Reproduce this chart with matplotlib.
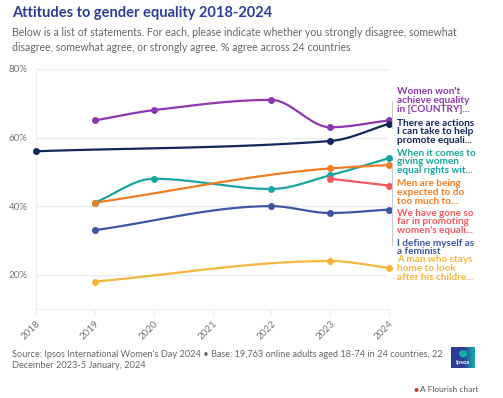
import numpy as np
import matplotlib
matplotlib.use("Agg")
import matplotlib.pyplot as plt
from matplotlib.patches import Circle

plt.rcParams['font.family'] = ['Lato', 'DejaVu Sans']

years = [2018, 2019, 2020, 2021, 2022, 2023, 2024]
nan = np.nan

# % agree (nan = not asked that year)
women_wont = [nan, 65, 68, nan, 71, 63, 65]
actions = [56, nan, nan, nan, nan, 59, 64]
equal_rights = [nan, 41, 48, nan, 45, 49, 54]
men_expected = [nan, 41, nan, nan, nan, 51, 52]
gone_so_far = [nan, nan, nan, nan, nan, 48, 46]
feminist = [nan, 33, nan, nan, 40, 38, 39]
man_stays_home = [nan, 18, nan, nan, nan, 24, 22]

series = [
    (women_wont, '#8f37b0', "Women won't\nachieve equality\nin [COUNTRY]..."),
    (actions, '#13275a', "There are actions\nI can take to help\npromote equali..."),
    (equal_rights, '#1aa5a0', "When it comes to\ngiving women\nequal rights wit..."),
    (men_expected, '#f07d22', "Men are being\nexpected to do\ntoo much to..."),
    (gone_so_far, '#f5585e', "We have gone so\nfar in promoting\nwomen's equali..."),
    (feminist, '#3d56a3', "I define myself as\na feminist"),
    (man_stays_home, '#f4b73d', "A man who stays\nhome to look\nafter his childre..."),
]
label_y = [92, 123, 153, 184, 213, 243, 260]  # centre of first line of each label, px


def monotone(x, y, n=40):
    # Fritsch-Carlson monotone cubic, like d3 curveMonotoneX
    x = np.asarray(x, float); y = np.asarray(y, float)
    if len(x) < 3:
        xs = np.linspace(x[0], x[-1], n)
        return xs, np.interp(xs, x, y)
    h = np.diff(x); d = np.diff(y) / h
    m = np.zeros(len(x))
    m[0], m[-1] = d[0], d[-1]
    for i in range(1, len(x) - 1):
        if d[i - 1] * d[i] <= 0:
            m[i] = 0
        else:
            w1 = 2 * h[i] + h[i - 1]; w2 = h[i] + 2 * h[i - 1]
            m[i] = (w1 + w2) / (w1 / d[i - 1] + w2 / d[i])
    xs_all, ys_all = [], []
    for i in range(len(x) - 1):
        t = np.linspace(0, 1, n)
        h00 = 2*t**3 - 3*t**2 + 1; h10 = t**3 - 2*t**2 + t
        h01 = -2*t**3 + 3*t**2; h11 = t**3 - t**2
        xs_all.append(x[i] + t * h[i])
        ys_all.append(h00*y[i] + h10*h[i]*m[i] + h01*y[i+1] + h11*h[i]*m[i+1])
    return np.concatenate(xs_all), np.concatenate(ys_all)


fig = plt.figure(figsize=(5.03, 3.98), dpi=100)
W, H = 503, 398
ax = fig.add_axes([36 / W, 1 - 309 / H, (389 - 36) / W, (309 - 69) / H])
ax.set_xlim(2018, 2024)
ax.set_ylim(10, 80)

for vals, col, lab in series:
    v = np.array(vals, float)
    ok = ~np.isnan(v)
    xx = np.array(years)[ok]; yy = v[ok]
    xs, ys = monotone(xx, yy)
    ax.plot(xs, ys, color=col, lw=1.6, solid_capstyle='round', zorder=3, clip_on=False)
    ax.plot(xx, yy, 'o', color=col, ms=4, zorder=4, clip_on=False)

ax.set_yticks([20, 40, 60, 80])
ax.set_yticklabels(['20%', '40%', '60%', '80%'])
ax.set_xticks(years)
ax.set_xticklabels([str(y) for y in years], rotation=45, ha='right', rotation_mode='anchor')
ax.grid(axis='y', color='#eeeeee', lw=1)
ax.set_axisbelow(True)
for s in ['top', 'right']:
    ax.spines[s].set_visible(False)
ax.spines['left'].set_color('#eeeeee')
ax.spines['bottom'].set_color('#eeeeee')
ax.tick_params(axis='y', length=0, labelsize=7, labelcolor='#777777', pad=6)
ax.tick_params(axis='x', length=4, color='#eeeeee', labelsize=7, labelcolor='#777777', pad=3)

# labels on the right, one text per line to control spacing
for (vals, col, lab), ty in zip(series, label_y):
    for k, line in enumerate(lab.split('\n')):
        fig.text(397 / W, 1 - (ty + 8.6 * k) / H, line, color=col, fontsize=7.2,
                 fontweight='bold', va='center', ha='left')
# bracket lines
for y0, y1 in [(101, 128), (163, 245)]:
    fig.add_artist(plt.Line2D([392 / W, 392 / W], [1 - y0 / H, 1 - y1 / H], color='#cccccc', lw=0.8))

fig.text(12 / W, 1 - 13 / H, 'Attitudes to gender equality 2018-2024', color='#2b3f98',
         fontsize=10.5, fontweight='bold', va='center', ha='left')
fig.text(12 / W, 1 - 40 / H,
         'Below is a list of statements. For each, please indicate whether you strongly disagree, somewhat\n'
         'disagree, somewhat agree, or strongly agree. % agree across 24 countries',
         color='#666666', fontsize=7.6, va='center', ha='left', linespacing=1.35)
fig.text(12 / W, 1 - 360 / H,
         "Source: Ipsos International Women's Day 2024 \u2022 Base: 19,763 online adults aged 18-74 in 24 countries, 22\n"
         "December 2023-5 January, 2024",
         color='#666666', fontsize=6.6, va='center', ha='left', linespacing=1.3)

# Ipsos logo
logo = fig.add_axes([451 / W, 1 - 368 / H, 24 / W, 21 / H])
logo.imshow(np.linspace(0, 1, 50)[None, :], cmap=matplotlib.colors.LinearSegmentedColormap.from_list(
    'ip', ['#2e3b97', '#2e3b97', '#14b0a8']), aspect='auto', extent=[0, 1, 0, 1])
logo.text(0.5, 0.28, 'Ipsos', color='white', fontsize=4.5, fontweight='bold', ha='center', va='center')
logo.add_patch(Circle((0.5, 0.68), 0.14, color='#14b0a8', transform=logo.transAxes))
logo.set_axis_off()

fig.text(478 / W, 1 - 389 / H, 'A Flourish chart', color='#555555', fontsize=6,
         va='center', ha='right')
fig.text(419 / W, 1 - 389 / H, '\u25cf', color='#d9302c', fontsize=6, va='center', ha='right')

fig.savefig('out.png', dpi=100)
